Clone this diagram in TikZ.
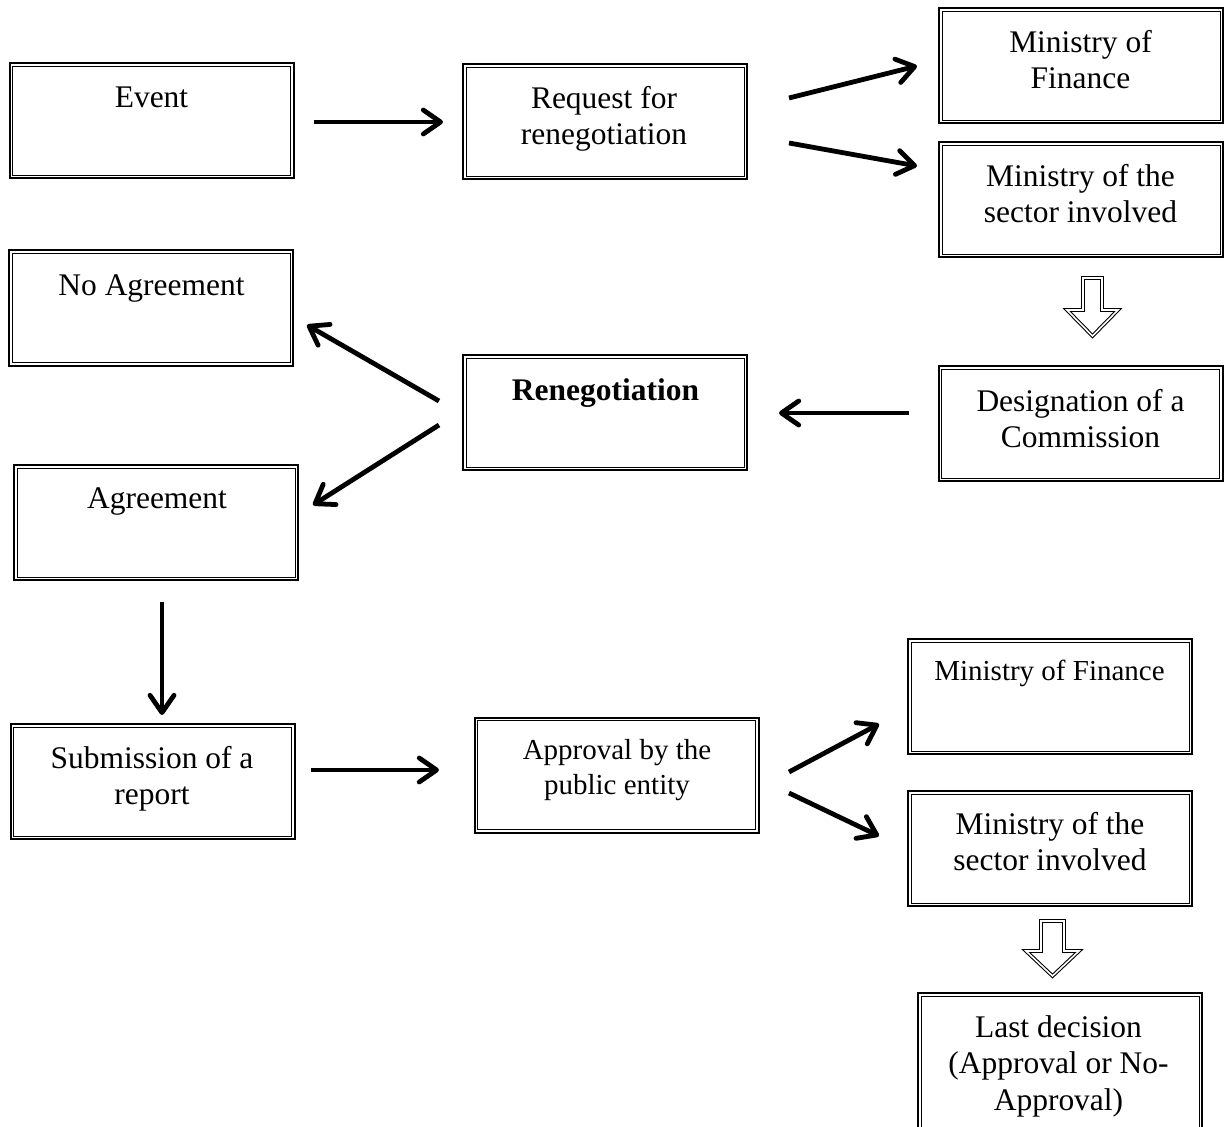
\documentclass[tikz,border=0pt]{standalone}
\usepackage{fontspec}
\setmainfont{Liberation Serif}
\usetikzlibrary{arrows.meta}
\begin{document}
\begin{tikzpicture}[x=0.75pt,y=-0.75pt,
  box/.style={draw, line width=1.5pt, minimum width=213pt, minimum height=86.25pt, inner sep=0pt},
  txt/.style={anchor=north, align=center, inner sep=0pt, font=\fontsize{23.6pt}{27.4pt}\selectfont},
  txts/.style={txt, font=\fontsize{21.75pt}{26.25pt}\selectfont},
  arr/.style={line width=3.6pt, -{Straight Barb[length=13pt,width=18pt,round]}},
  blockarr/.style={draw, double, line width=0.8pt, double distance=1.2pt, line join=miter}
]
\useasboundingbox (0,0) rectangle (1225,1127);
\fill[white] (0,0) rectangle (1225,1127);

% boxes
\node[box] (event)   at (151.5,120.5) {};
\node[box] (request) at (605,121.5) {};
\node[box] (mof1)    at (1081,65.5) {};
\node[box] (mos1)    at (1081,200) {};
\node[box] (noagr)   at (151,308) {};
\node[box] (reneg)   at (605,412.5) {};
\node[box] (design)  at (1080.5,423.5) {};
\node[box] (agree)   at (156,522.5) {};
\node[box] (submit)  at (152.5,781.5) {};
\node[box] (approve) at (616.5,775) {};
\node[box] (mof2)    at (1050,696.5) {};
\node[box] (mos2)    at (1050,848.5) {};
\node[box, minimum height=109.5pt] (last) at (1060,1066) {};

\foreach \n in {event,request,mof1,mos1,noagr,reneg,design,agree,submit,approve,mof2,mos2,last}
  \draw[line width=0.6pt] ([xshift=3pt,yshift=-3pt]\n.north west) rectangle ([xshift=-3pt,yshift=3pt]\n.south east);

% texts
\node[txt]  (event-t)   at (151.5,87)   {Event};
\node[txt]  (request-t) at (604,86)     {Request for\\renegotiation};
\node[txt]  (mof1-t)    at (1080.5,30)  {Ministry of\\Finance};
\node[txt]  (mos1-t)    at (1080.5,164) {Ministry of the\\sector involved};
\node[txt]  (noagr-t)   at (151.5,274)  {No Agreement};
\node[txt]  (reneg-t)   at (605.5,378)  {\bfseries Renegotiation};
\node[txt]  (design-t)  at (1080.5,389) {Designation of a\\Commission};
\node[txt]  (agree-t)   at (157,487)    {Agreement};
\node[txt]  (submit-t)  at (152,746)    {Submission of a\\report};
\node[txts] (approve-t) at (617,739)    {Approval by the\\public entity};
\node[txts] (mof2-t)    at (1049.5,660) {Ministry of Finance};
\node[txt]  (mos2-t)    at (1050,812)   {Ministry of the\\sector involved};
\node[txt]  (last-t)    at (1058.5,1015) {Last decision\\(Approval or No-\\Approval)};

% arrow end points
\coordinate (a1s) at (314,122);  \coordinate (a1e) at (443,122);
\coordinate (a2s) at (789,98);   \coordinate (a2e) at (917,66);
\coordinate (a3s) at (789,143);  \coordinate (a3e) at (917,166);
\coordinate (a4s) at (909,413);  \coordinate (a4e) at (779,413);
\coordinate (a5s) at (439,401);  \coordinate (a5e) at (307,325);
\coordinate (a6s) at (439,425);  \coordinate (a6e) at (313,505);
\coordinate (a7s) at (162,602);  \coordinate (a7e) at (162,715);
\coordinate (a8s) at (311,770);  \coordinate (a8e) at (439,770);
\coordinate (a9s) at (789,772);  \coordinate (a9e) at (879,724);
\coordinate (a10s) at (789,793); \coordinate (a10e) at (879,836);

\draw[arr] (a1s) -- (a1e);
\draw[arr] (a2s) -- (a2e);
\draw[arr] (a3s) -- (a3e);
\draw[arr] (a4s) -- (a4e);
\draw[arr] (a5s) -- (a5e);
\draw[arr] (a6s) -- (a6e);
\draw[arr] (a7s) -- (a7e);
\draw[arr] (a8s) -- (a8e);
\draw[arr] (a9s) -- (a9e);
\draw[arr] (a10s) -- (a10e);

% hollow block arrows
\draw[blockarr] (1083,278) -- (1102,278) -- (1102,310) -- (1118,310) -- (1092.5,336) -- (1067,310) -- (1083,310) -- cycle;
\draw[blockarr] (1041,921) -- (1064,921) -- (1064,951) -- (1079,951) -- (1052.5,976) -- (1026,951) -- (1041,951) -- cycle;
\end{tikzpicture}
\end{document}
